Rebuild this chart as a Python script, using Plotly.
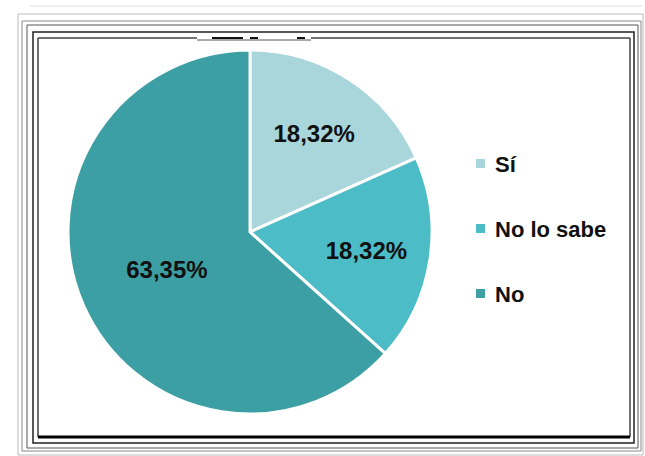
import plotly.graph_objects as go

# Survey answers and their shares (%)
labels = ["Sí", "No lo sabe", "No"]
values = [18.32, 18.32, 63.35]
colors = ["#A8D6DB", "#4CBCC7", "#3C9FA4"]

W, H = 645, 456


def px(x):
    return x / W


def py(y):
    return 1 - y / H


def fmt(v):
    return f"{v:.2f}".replace(".", ",") + "%"


fig = go.Figure()

fig.add_trace(go.Pie(
    labels=labels,
    values=values,
    text=[fmt(v) for v in values],
    textinfo="text",
    textposition="inside",
    insidetextorientation="horizontal",
    textfont=dict(family="Liberation Sans, Arial, sans-serif", size=24,
                  color="#111111", weight="bold"),
    marker=dict(colors=colors, line=dict(color="white", width=3)),
    sort=False,
    direction="clockwise",
    rotation=0,
    hole=0,
    domain=dict(x=[px(68), px(432)], y=[py(414), py(50)]),
    showlegend=False,
))

shapes = []


def hline(x0, x1, y, color, width=1):
    shapes.append(dict(type="line", xref="paper", yref="paper",
                       x0=px(x0), x1=px(x1), y0=py(y), y1=py(y),
                       line=dict(color=color, width=width)))


def vline(x, y0, y1, color, width=1):
    shapes.append(dict(type="line", xref="paper", yref="paper",
                       x0=px(x), x1=px(x), y0=py(y0), y1=py(y1),
                       line=dict(color=color, width=width)))


def rect(x0, y0, x1, y1, color, width=1):
    shapes.append(dict(type="rect", xref="paper", yref="paper",
                       x0=px(x0), x1=px(x1), y0=py(y1), y1=py(y0),
                       line=dict(color=color, width=width)))


# layered frame around the chart
hline(30, 642, 6, "#dddddd", 1)
rect(18, 14, 643, 455, "#bbbbbb", 1)
rect(22, 21, 641, 451, "#8a8a8a", 1)
rect(27, 25, 638, 448, "#555555", 1)
rect(33, 32, 634, 443, "#222222", 1.5)
# innermost frame, top edge broken where a title strip sits
hline(38, 197, 38, "#444444", 1.5)
hline(311, 630, 38, "#444444", 1.5)
hline(197, 311, 40, "#555555", 1)
hline(212, 243, 38, "#111111", 2)
hline(250, 258, 38, "#111111", 2)
hline(297, 305, 38, "#111111", 2)
vline(38, 38, 437, "#444444", 1.5)
vline(630, 38, 437, "#444444", 1.5)
hline(38, 630, 437, "#000000", 3)

# legend built from the same labels/colors
annotations = []
leg_x, leg_y0, leg_dy = 480.5, 163.5, 65
for i, (lab, col) in enumerate(zip(labels, colors)):
    cy = leg_y0 + i * leg_dy
    shapes.append(dict(type="rect", xref="paper", yref="paper",
                       x0=px(leg_x - 4.5), x1=px(leg_x + 4.5),
                       y0=py(cy + 4.5), y1=py(cy - 4.5),
                       fillcolor=col, line=dict(width=0)))
    annotations.append(dict(xref="paper", yref="paper",
                            x=px(leg_x + 12), y=py(cy + 1),
                            xanchor="left", yanchor="middle",
                            text=lab, showarrow=False,
                            font=dict(family="Liberation Sans, Arial, sans-serif",
                                      size=22, color="#111111", weight="bold")))

fig.update_layout(
    width=W, height=H,
    autosize=False,
    margin=dict(l=0, r=0, t=0, b=0),
    paper_bgcolor="white",
    plot_bgcolor="white",
    shapes=shapes,
    annotations=annotations,
)

fig.write_html("out.html")
